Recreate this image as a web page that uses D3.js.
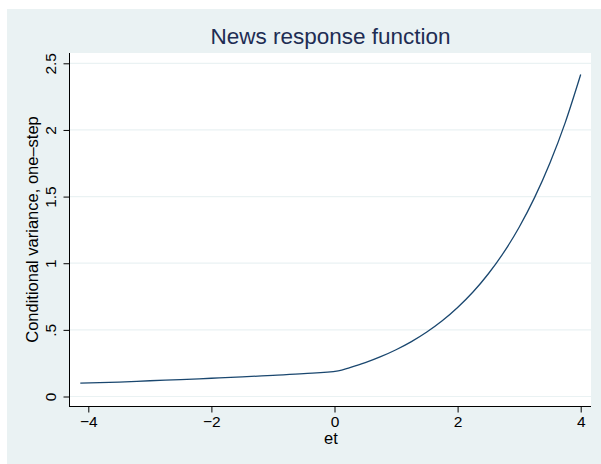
<!DOCTYPE html>
<html>
<head>
<meta charset="utf-8">
<script src="https://cdn.jsdelivr.net/npm/d3@7"></script>
<style>
  html, body { margin: 0; padding: 0; background: #ffffff; }
  svg { display: block; }
  text { font-family: "Liberation Sans", Arial, Helvetica, sans-serif; }
</style>
</head>
<body>
<svg id="chart" width="601" height="464"></svg>
<script>
// Data
const etValues = [-4.13, -3.5, -3.0, -2.5, -2.0, -1.5, -1.0, -0.5, 0.06,
                  0.25, 0.5, 0.75, 1.0, 1.25, 1.5, 1.75, 2.0, 2.25, 2.5,
                  2.75, 3.0, 3.25, 3.5, 3.75, 4.0];
const varianceValues = [0.100, 0.108, 0.118, 0.127, 0.137, 0.147, 0.159, 0.171, 0.192,
                        0.217, 0.254, 0.299, 0.351, 0.412, 0.484, 0.568, 0.668, 0.784, 0.921,
                        1.081, 1.270, 1.492, 1.752, 2.057, 2.416];
const xTicks = [-4, -2, 0, 2, 4];
const xTickLabels = ["\u22124", "\u22122", "0", "2", "4"];
const yTicks = [0, 0.5, 1, 1.5, 2, 2.5];
const yTickLabels = ["0", ".5", "1", "1.5", "2", "2.5"];
const titleText = "News response function";
const xTitle = "et";
const yTitle = "Conditional variance, one\u2013step";

const points = etValues.map((x, i) => ({ x, y: varianceValues[i] }));

const svg = d3.select("#chart");
const bg = "#eaf2f3";

// outer graph region
svg.append("rect").attr("x", 7).attr("y", 9).attr("width", 594).attr("height", 455).attr("fill", bg);

// plot region
const plot = { left: 70, right: 591, top: 53, bottom: 406 };
svg.append("rect")
  .attr("x", plot.left).attr("y", plot.top)
  .attr("width", plot.right - plot.left).attr("height", plot.bottom - plot.top)
  .attr("fill", "#ffffff");

const x = d3.scaleLinear().domain([-4, 4]).range([88.3, 580.7]);
const y = d3.scaleLinear().domain([0, 2.5]).range([396.5, 63.3]);

// gridlines
svg.append("g").selectAll("line").data(yTicks).join("line")
  .attr("x1", plot.left).attr("x2", plot.right)
  .attr("y1", d => y(d)).attr("y2", d => y(d))
  .attr("stroke", bg).attr("stroke-width", 1.2);

// line
svg.append("path").datum(points)
  .attr("fill", "none")
  .attr("stroke", "#1a476f")
  .attr("stroke-width", 1.3)
  .attr("stroke-linejoin", "round")
  .attr("d", d3.line().curve(d3.curveMonotoneX).x(d => x(d.x)).y(d => y(d.y)));

// y axis
const yAxis = d3.axisLeft(y).tickValues(yTicks).tickSize(6).tickPadding(8)
  .tickFormat((d, i) => yTickLabels[i]);
const gy = svg.append("g").attr("transform", `translate(${plot.left - 0.5},0)`).call(yAxis);
gy.select(".domain").remove();
gy.append("line").attr("x1", 0).attr("x2", 0).attr("y1", plot.top).attr("y2", plot.bottom + 0.5)
  .attr("stroke", "#000").attr("stroke-width", 1);
gy.selectAll(".tick line").attr("stroke", "#000");
gy.selectAll(".tick text")
  .attr("x", 0).attr("dy", 0)
  .attr("transform", "translate(-14,0) rotate(-90)")
  .attr("text-anchor", "middle")
  .attr("fill", "#000")
  .style("font-size", "15.5px");

// x axis
const xAxis = d3.axisBottom(x).tickValues(xTicks).tickSize(6).tickPadding(3)
  .tickFormat((d, i) => xTickLabels[i]);
const gx = svg.append("g").attr("transform", `translate(0,${plot.bottom + 0.5})`).call(xAxis);
gx.select(".domain").remove();
gx.append("line").attr("x1", plot.left - 1).attr("x2", plot.right).attr("y1", 0).attr("y2", 0)
  .attr("stroke", "#000").attr("stroke-width", 1);
gx.selectAll(".tick line").attr("stroke", "#000");
gx.selectAll(".tick text").attr("fill", "#000").style("font-size", "15.5px");

// axis titles
svg.append("text")
  .attr("x", 331).attr("y", 444)
  .attr("text-anchor", "middle")
  .attr("fill", "#000")
  .style("font-size", "16.5px")
  .text(xTitle);

svg.append("text")
  .attr("transform", `translate(37.5,${(plot.top + plot.bottom) / 2}) rotate(-90)`)
  .attr("text-anchor", "middle")
  .attr("fill", "#000")
  .style("font-size", "16.5px")
  .text(yTitle);

// title
svg.append("text")
  .attr("x", 330.5).attr("y", 44)
  .attr("text-anchor", "middle")
  .attr("fill", "#1e2d53")
  .style("font-size", "22.5px")
  .text(titleText);
</script>
</body>
</html>
